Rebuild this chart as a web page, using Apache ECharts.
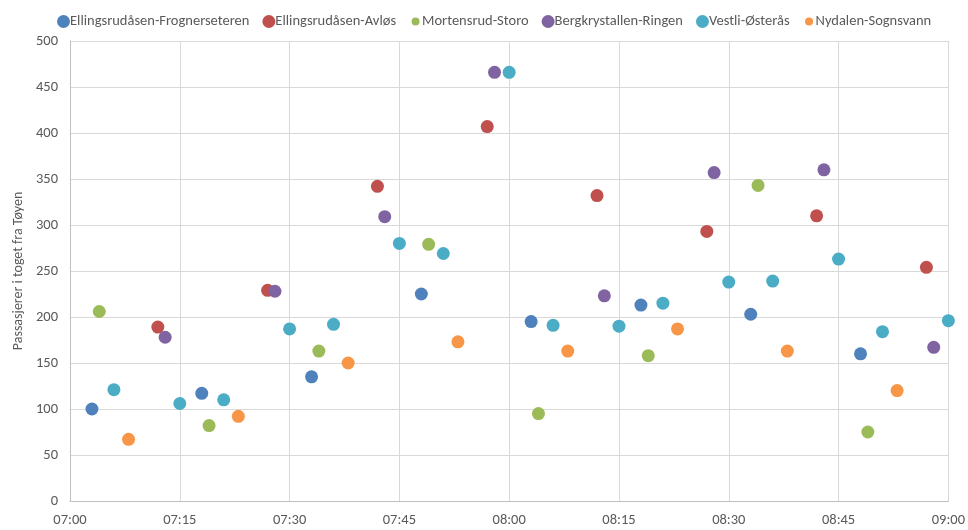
<!DOCTYPE html>
<html>
<head>
<meta charset="utf-8">
<script src="https://cdn.jsdelivr.net/npm/echarts@6/dist/echarts.min.js"></script>
<style>
  html, body { margin: 0; padding: 0; background: #fff; }
  #chart { width: 968px; height: 530px; }
</style>
</head>
<body>
<div id="chart"></div>
<script>
// Departure time (HH:MM) and passenger count for each line
const routeNames = [
  'Ellingsrudåsen-Frognerseteren',
  'Ellingsrudåsen-Avløs',
  'Mortensrud-Storo',
  'Bergkrystallen-Ringen',
  'Vestli-Østerås',
  'Nydalen-Sognsvann'
];
const routeColors = ['#4F81BD', '#C0504D', '#9BBB59', '#8064A2', '#4BACC6', '#F79646'];

const frognerseterenTimes = ['07:03', '07:18', '07:33', '07:48', '08:03', '08:18', '08:33', '08:48'];
const frognerseterenPax   = [100, 117, 135, 225, 195, 213, 203, 160];

const avlosTimes = ['07:12', '07:27', '07:42', '07:57', '08:12', '08:27', '08:42', '08:57'];
const avlosPax   = [189, 229, 342, 407, 332, 293, 310, 254];

const storoTimes = ['07:04', '07:19', '07:34', '07:49', '08:04', '08:19', '08:34', '08:49'];
const storoPax   = [206, 82, 163, 279, 95, 158, 343, 75];

const ringenTimes = ['07:13', '07:28', '07:43', '07:58', '08:13', '08:28', '08:43', '08:58'];
const ringenPax   = [178, 228, 309, 466, 223, 357, 360, 167];

const osterasTimes = ['07:06', '07:15', '07:21', '07:30', '07:36', '07:45', '07:51', '08:00',
                      '08:06', '08:15', '08:21', '08:30', '08:36', '08:45', '08:51', '09:00'];
const osterasPax   = [121, 106, 110, 187, 192, 280, 269, 466,
                      191, 190, 215, 238, 239, 263, 184, 196];

const sognsvannTimes = ['07:08', '07:23', '07:38', '07:53', '08:08', '08:23', '08:38', '08:53'];
const sognsvannPax   = [67, 92, 150, 173, 163, 187, 163, 120];

const xTickStep = 15;      // minutes between x ticks
const yTickStep = 50;

// minutes after 07:00
function toMinutes(t) {
  const [h, m] = t.split(':').map(Number);
  return (h - 7) * 60 + m;
}
function toClock(min) {
  const total = 7 * 60 + min;
  const h = Math.floor(total / 60), m = total % 60;
  return String(h).padStart(2, '0') + ':' + String(m).padStart(2, '0');
}
function pairs(times, values) {
  return times.map((t, i) => [toMinutes(t), values[i]]);
}

const seriesData = [
  pairs(frognerseterenTimes, frognerseterenPax),
  pairs(avlosTimes, avlosPax),
  pairs(storoTimes, storoPax),
  pairs(ringenTimes, ringenPax),
  pairs(osterasTimes, osterasPax),
  pairs(sognsvannTimes, sognsvannPax)
];

// legend markers: full circle, and a smaller dot centred in the same 13px box
const bigDot = 'circle';
const smallDot = 'path://M0,0M13,13M2.5,6.5a4,4 0 1,0 8,0a4,4 0 1,0 -8,0Z';
const legendIcons = [bigDot, bigDot, smallDot, bigDot, bigDot, smallDot];

const font = "Carlito, 'Liberation Sans', sans-serif";
const textColor = '#595959';
const fontSize = 14.5;

const chart = echarts.init(document.getElementById('chart'), null, { renderer: 'canvas' });
chart.setOption({
  animation: false,
  color: routeColors,
  textStyle: { fontFamily: font },
  legend: {
    top: 9,
    left: 52,
    itemWidth: 13,
    itemHeight: 13,
    itemGap: 13,
    textStyle: { color: textColor, fontSize: fontSize, fontFamily: font, padding: [0, 0, 0, -5] },
    data: routeNames.map((n, i) => ({ name: n, icon: legendIcons[i] }))
  },
  grid: { left: 70, right: 18, top: 41, bottom: 29, containLabel: false },
  xAxis: {
    type: 'value',
    min: 0,
    max: 120,
    interval: xTickStep,
    axisLine: { show: true, lineStyle: { color: '#bfbfbf', width: 1 } },
    axisTick: { show: false },
    splitLine: { show: true, lineStyle: { color: '#d9d9d9', width: 1 } },
    axisLabel: { color: textColor, fontSize: fontSize, fontFamily: font, margin: 12, formatter: v => toClock(v) }
  },
  yAxis: {
    type: 'value',
    min: 0,
    max: 500,
    interval: yTickStep,
    name: 'Passasjerer i toget fra Tøyen',
    nameLocation: 'middle',
    nameGap: 39,
    nameTextStyle: { color: textColor, fontSize: 14, fontFamily: font },
    axisLine: { show: true, lineStyle: { color: '#bfbfbf', width: 1 } },
    axisTick: { show: false },
    splitLine: { show: true, lineStyle: { color: '#d9d9d9', width: 1 } },
    axisLabel: { color: textColor, fontSize: fontSize, fontFamily: font, margin: 12 }
  },
  series: routeNames.map((name, i) => ({
    name: name,
    type: 'scatter',
    symbol: 'circle',
    symbolSize: 13,
    data: seriesData[i],
    itemStyle: { color: routeColors[i], opacity: 1 }
  }))
});
</script>
</body>
</html>
